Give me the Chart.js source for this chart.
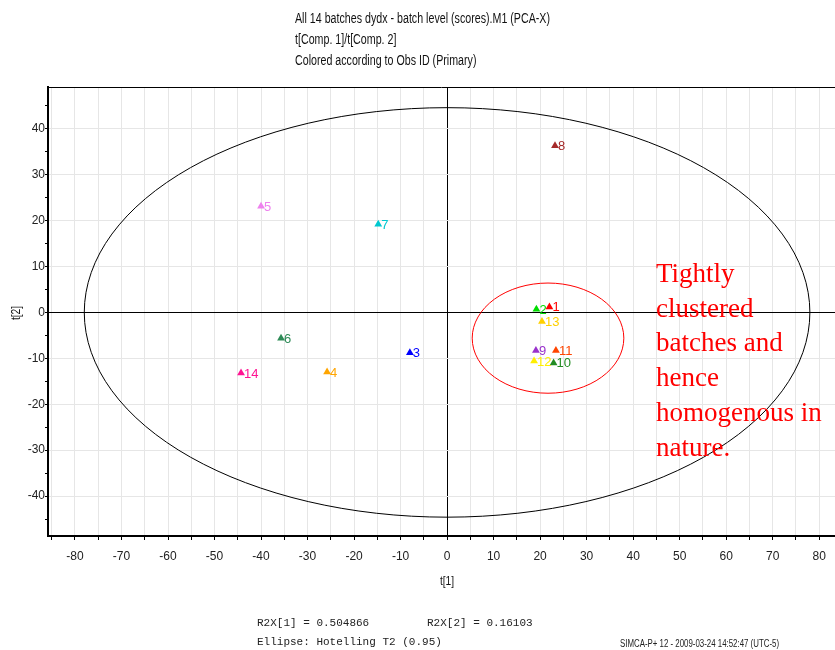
<!DOCTYPE html>
<html>
<head>
<meta charset="utf-8">
<script src="https://cdn.jsdelivr.net/npm/chart.js@4"></script>
<style>
html,body{margin:0;padding:0;background:#fff;}
#wrap{width:835px;height:650px;position:relative;}
</style>
</head>
<body>
<div id="wrap"><canvas id="c" width="835" height="650"></canvas></div>
<script>
// ---- data ----
const obsIds = ['1','2','3','4','5','6','7','8','9','10','11','12','13','14'];
const t1 = [22.0, 19.2, -8.0, -25.8, -40.0, -35.7, -14.8, 23.2, 19.1, 22.9, 23.4, 18.7, 20.4, -44.3];
const t2 = [1.2, 0.7, -8.8, -13.0, 23.1, -5.6, 19.2, 36.3, -8.3, -11.0, -8.3, -10.6, -2.0, -13.2];
const obsColors = ['#ff0000','#00dd00','#0000ff','#ffa500','#ee82ee','#2e8b57','#00c8d0','#a52a2a','#9932cc','#228b22','#ff4500','#ffee00','#ffd000','#ff1493'];
const xTickLabels = [-80,-70,-60,-50,-40,-30,-20,-10,0,10,20,30,40,50,60,70,80];
const yTickLabels = [-40,-30,-20,-10,0,10,20,30,40];
const hotelling = {cx:0, cy:0, a:78, b:44.6};
const cluster = {cx:21.7, cy:-5.6, a:16.3, b:12.0};
const titleLines = ['All 14 batches dydx - batch level (scores).M1 (PCA-X)','t[Comp. 1]/t[Comp. 2]','Colored according to Obs ID (Primary)'];
const noteLines = ['Tightly','clustered','batches and','hence','homogenous in','nature.'];
const r2x1 = 'R2X[1] = 0.504866';
const r2x2 = 'R2X[2] = 0.16103';
const ellipseNote = 'Ellipse: Hotelling T2 (0.95)';
const stamp = 'SIMCA-P+ 12 - 2009-03-24 14:52:47 (UTC-5)';

const NARROW = "'Liberation Sans Narrow','Arial Narrow','Liberation Sans',Arial,sans-serif";

const points = t1.map((v,i)=>({x:v,y:t2[i],label:obsIds[i]}));

function drawNarrow(ctx, text, x, y, font, sx){
  ctx.save();
  ctx.font = font;
  ctx.translate(x,y);
  ctx.scale(sx,1);
  ctx.fillText(text,0,0);
  ctx.restore();
}

const decor = {
  id:'decor',
  beforeDatasetsDraw(chart){
    const ctx = chart.ctx, xs = chart.scales.x, ys = chart.scales.y, ca = chart.chartArea;
    ctx.save();
    ctx.beginPath(); ctx.rect(ca.left, ca.top, ca.right-ca.left, ca.bottom-ca.top); ctx.clip();
    [[hotelling,'#000000'],[cluster,'#ff0000']].forEach(([e,col])=>{
      const cx = xs.getPixelForValue(e.cx), cy = ys.getPixelForValue(e.cy);
      const rx = Math.abs(xs.getPixelForValue(e.cx+e.a)-cx);
      const ry = Math.abs(ys.getPixelForValue(e.cy+e.b)-cy);
      ctx.beginPath(); ctx.ellipse(cx,cy,rx,ry,0,0,Math.PI*2);
      ctx.strokeStyle = col; ctx.lineWidth = 1; ctx.stroke();
    });
    ctx.restore();
  },
  afterDatasetsDraw(chart){
    const ctx = chart.ctx, meta = chart.getDatasetMeta(0);
    ctx.save();
    ctx.font = "13px 'Liberation Sans',Arial,sans-serif";
    ctx.textBaseline = 'middle';
    meta.data.forEach((el,i)=>{
      ctx.fillStyle = obsColors[i];
      ctx.fillText(obsIds[i], el.x+3, el.y+1);
    });
    ctx.restore();
  },
  afterDraw(chart){
    const ctx = chart.ctx, ca = chart.chartArea;
    ctx.save();
    // top frame line
    ctx.strokeStyle = '#000'; ctx.lineWidth = 1;
    ctx.beginPath(); ctx.moveTo(ca.left, ca.top+0.5); ctx.lineTo(ca.right, ca.top+0.5); ctx.stroke();
    // titles
    ctx.fillStyle = '#111';
    const tf = "14px 'Liberation Sans',Arial,sans-serif";
    ctx.font = tf;
    const sx = 255 / ctx.measureText(titleLines[0]).width;
    ctx.textBaseline = 'alphabetic';
    titleLines.forEach((t,i)=> drawNarrow(ctx,t,295,23+i*21,tf,sx));
    // axis titles
    ctx.font = "12px 'Liberation Sans',Arial,sans-serif";
    ctx.textAlign = 'center'; ctx.textBaseline = 'middle';
    drawNarrow(ctx,'t[1]',447,582,ctx.font,0.85);
    ctx.save(); ctx.translate(17,313); ctx.rotate(-Math.PI/2); ctx.scale(0.85,1); ctx.fillText('t[2]',0,0); ctx.restore();
    // note
    ctx.textAlign = 'left'; ctx.textBaseline = 'alphabetic';
    ctx.fillStyle = '#ff0000';
    ctx.font = "27px 'Liberation Serif','Times New Roman',serif";
    noteLines.forEach((t,i)=> ctx.fillText(t,656,282+i*34.7));
    // bottom info
    ctx.fillStyle = '#222';
    ctx.font = "11px 'Liberation Mono','Courier New',monospace";
    ctx.fillText(r2x1,257,626);
    ctx.fillText(r2x2,427,626);
    ctx.fillText(ellipseNote,257,645);
    const sf = "10px 'Liberation Sans',Arial,sans-serif";
    ctx.font = sf;
    const s2 = 159 / ctx.measureText(stamp).width;
    ctx.fillStyle = '#222';
    drawNarrow(ctx,stamp,620,647,sf,s2);
    ctx.restore();
  }
};

new Chart(document.getElementById('c'), {
  type:'scatter',
  data:{datasets:[{
    data:points,
    pointStyle:'triangle',
    pointRadius:4.5,
    pointBorderWidth:0,
    pointBackgroundColor:obsColors,
    pointBorderColor:obsColors
  }]},
  options:{
    responsive:false,
    animation:false,
    events:[],
    layout:{autoPadding:false, padding:{top:87,left:0,right:0,bottom:0}},
    plugins:{legend:{display:false},tooltip:{enabled:false},title:{display:false}},
    scales:{
      x:{
        type:'linear', min:-85.8, max:83.4,
        afterFit(s){ s.height = 114; s.paddingLeft = 0; s.paddingRight = 0; },
        border:{display:true,color:'#000',width:2},
        grid:{
          color:(c)=> c.tick && c.tick.value===0 ? '#000' : '#e6e6e6',
          lineWidth:1, tickColor:'#000', tickLength:4, drawTicks:true
        },
        ticks:{
          stepSize:5, includeBounds:false, autoSkip:false, maxRotation:0, padding:9,
          color:'#222', font:{family:NARROW,size:12},
          callback:(v)=> xTickLabels.includes(v) ? String(v) : ''
        }
      },
      y:{
        type:'linear', min:-48.7, max:49.1,
        afterFit(s){ s.width = 48; s.paddingTop = 0; s.paddingBottom = 0; },
        border:{display:true,color:'#000',width:2},
        grid:{
          color:(c)=> !c.tick ? 'rgba(0,0,0,0)' : (c.tick.value===0 ? '#000' : (yTickLabels.includes(c.tick.value) ? '#e6e6e6' : 'rgba(0,0,0,0)')),
          lineWidth:1, tickColor:'#000', tickLength:3, drawTicks:true
        },
        ticks:{
          stepSize:5, includeBounds:false, autoSkip:false, padding:0,
          color:'#222', font:{family:NARROW,size:12},
          callback:(v)=> yTickLabels.includes(v) ? String(v) : ''
        }
      }
    }
  },
  plugins:[decor]
});
</script>
</body>
</html>
